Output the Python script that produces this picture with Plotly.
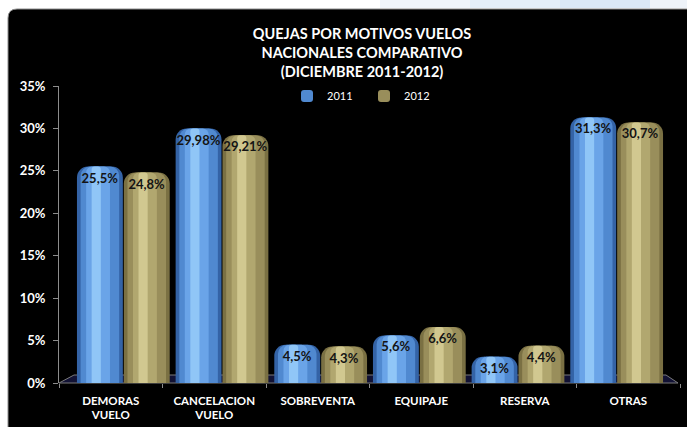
import plotly.graph_objects as go

# ---- data ----
categories = ["DEMORAS<br>VUELO", "CANCELACION<br>VUELO", "SOBREVENTA",
              "EQUIPAJE", "RESERVA", "OTRAS"]
quejas_2011 = [25.5, 29.98, 4.5, 5.6, 3.1, 31.3]
quejas_2012 = [24.8, 29.21, 4.3, 6.6, 4.4, 30.7]
series_names = ["2011", "2012"]
y_ticks = [0, 5, 10, 15, 20, 25, 30, 35]

FONT = "Lato, Roboto, sans-serif"

# ---- page geometry (pixels) ----
W, H = 687, 427
ML, MR, MT, MB = 59, 7, 86, 44
PW, PH = W - ML - MR, H - MT - MB


def px_x(x):
    return (x - ML) / PW


def px_y(y):
    return (H - MB - y) / PH


def fmt(v):
    return f"{v:g}".replace(".", ",") + "%"


# cylinder shading: (width fraction, centre shift, colour, corner radius px)
blue_layers = [(1.00, 0.00, "#3463a6", 11),
               (0.84, 0.00, "#5089d0", 9),
               (0.52, -0.04, "#6aa4e8", 6),
               (0.20, -0.08, "#90c6f7", 3)]
tan_layers = [(1.00, 0.00, "#7a7043", 11),
              (0.84, 0.00, "#998e5b", 9),
              (0.52, -0.04, "#b1a76f", 6),
              (0.20, -0.08, "#d1c890", 3)]

BAR_W = 0.465
offsets = [-0.47, 0.005]

fig = go.Figure()

for name, values, layers, off in zip(series_names, [quejas_2011, quejas_2012],
                                     [blue_layers, tan_layers], offsets):
    for i, (f, s, col, r) in enumerate(layers):
        fig.add_trace(go.Bar(
            x=categories, y=values, xaxis="x2", yaxis="y",
            name=name, legendgroup=name, showlegend=(i == 1),
            width=BAR_W * f,
            offset=off + BAR_W * (1 - f) / 2 + BAR_W * s,
            marker=dict(color=col, line=dict(width=0), cornerradius=r),
            hoverinfo="skip",
        ))
    # value labels on a transparent bar drawn last
    fig.add_trace(go.Bar(
        x=categories, y=values, xaxis="x2", yaxis="y",
        name=name, showlegend=False,
        width=BAR_W, offset=off,
        marker=dict(color="rgba(0,0,0,0)", line=dict(width=0)),
        text=[fmt(v) for v in values],
        textposition="inside", insidetextanchor="end", textangle=0,
        constraintext="none",
        textfont=dict(family=FONT, size=13, color="#141414", weight="bold"),
    ))

# anchoring trace for the front (label) axis
fig.add_trace(go.Bar(x=categories, y=[None] * len(categories),
                     xaxis="x", yaxis="y", showlegend=False, hoverinfo="skip"))

shapes = []
# black chart panel with rounded top-left corner
x0, y0, x1, y1, rad = 8, 9, 700, 440, 9
shapes.append(dict(
    type="path", xref="paper", yref="paper", layer="below",
    path=(f"M {px_x(x0)},{px_y(y1)} L {px_x(x0)},{px_y(y0 + rad)} "
          f"Q {px_x(x0)},{px_y(y0)} {px_x(x0 + rad)},{px_y(y0)} "
          f"L {px_x(x1)},{px_y(y0)} L {px_x(x1)},{px_y(y1)} Z"),
    fillcolor="#000000", line=dict(color="#8c8c8c", width=1),
))
# pale blue strip along the top right
for xa, xb, c in [(380, 470, "#f0f5fb"), (470, 560, "#e4eef9"),
                  (560, 650, "#dbe8f6"), (650, 687, "#eef3f9")]:
    shapes.append(dict(type="rect", xref="paper", yref="paper", layer="below",
                       x0=px_x(xa), x1=px_x(xb), y0=px_y(8), y1=px_y(0),
                       fillcolor=c, line=dict(width=0)))
# perspective floor
fl, fr, bl, br, fy, by = 59, 678, 74, 666, 383, 375
shapes.append(dict(
    type="path", xref="paper", yref="paper", layer="below",
    path=(f"M {px_x(fl)},{px_y(fy)} L {px_x(bl)},{px_y(by)} "
          f"L {px_x(br)},{px_y(by)} L {px_x(fr)},{px_y(fy)} Z"),
    fillcolor="#121234", line=dict(color="#7a7a7a", width=1),
))

fig.update_layout(
    width=W, height=H,
    margin=dict(l=ML, r=MR, t=MT, b=MB),
    paper_bgcolor="#ffffff", plot_bgcolor="rgba(0,0,0,0)",
    barmode="overlay",
    shapes=shapes,
    title=dict(
        text="QUEJAS POR MOTIVOS VUELOS<br>NACIONALES COMPARATIVO<br>(DICIEMBRE 2011-2012)",
        x=362 / W, xref="container", xanchor="center",
        y=1 - 39 / H, yref="container", yanchor="top",
        font=dict(family=FONT, size=14.5, color="#ffffff", weight="bold"),
    ),
    legend=dict(
        orientation="h", x=px_x(287), y=px_y(96), xanchor="left", yanchor="middle",
        bgcolor="rgba(0,0,0,0)", font=dict(family=FONT, size=11, color="#ffffff"),
        entrywidth=32, itemclick=False, itemdoubleclick=False,
    ),
    xaxis=dict(
        type="category", domain=[0, 1], range=[-0.5, 5.5], anchor="y",
        showgrid=False, zeroline=False, showline=False,
        ticks="outside", tickson="boundaries", ticklen=4, tickcolor="#8c8c8c",
        ticklabelstandoff=9,
        tickfont=dict(family=FONT, size=11.5, color="#ffffff", weight="bold"),
    ),
    xaxis2=dict(
        type="category", domain=[px_x(74), px_x(666)], range=[-0.5, 5.5],
        anchor="y", visible=False,
    ),
    yaxis=dict(
        range=[0, 35], tickmode="array", tickvals=y_ticks,
        ticktext=[f"{v}%" for v in y_ticks], anchor="x",
        showgrid=False, zeroline=False,
        showline=True, linecolor="#8c8c8c", linewidth=1,
        ticks="outside", ticklen=5, tickcolor="#8c8c8c",
        ticklabelstandoff=5,
        tickfont=dict(family=FONT, size=13, color="#ffffff", weight="bold"),
    ),
    uniformtext=dict(minsize=13, mode="show"),
    hovermode=False,
)

fig.write_html("out.html")
